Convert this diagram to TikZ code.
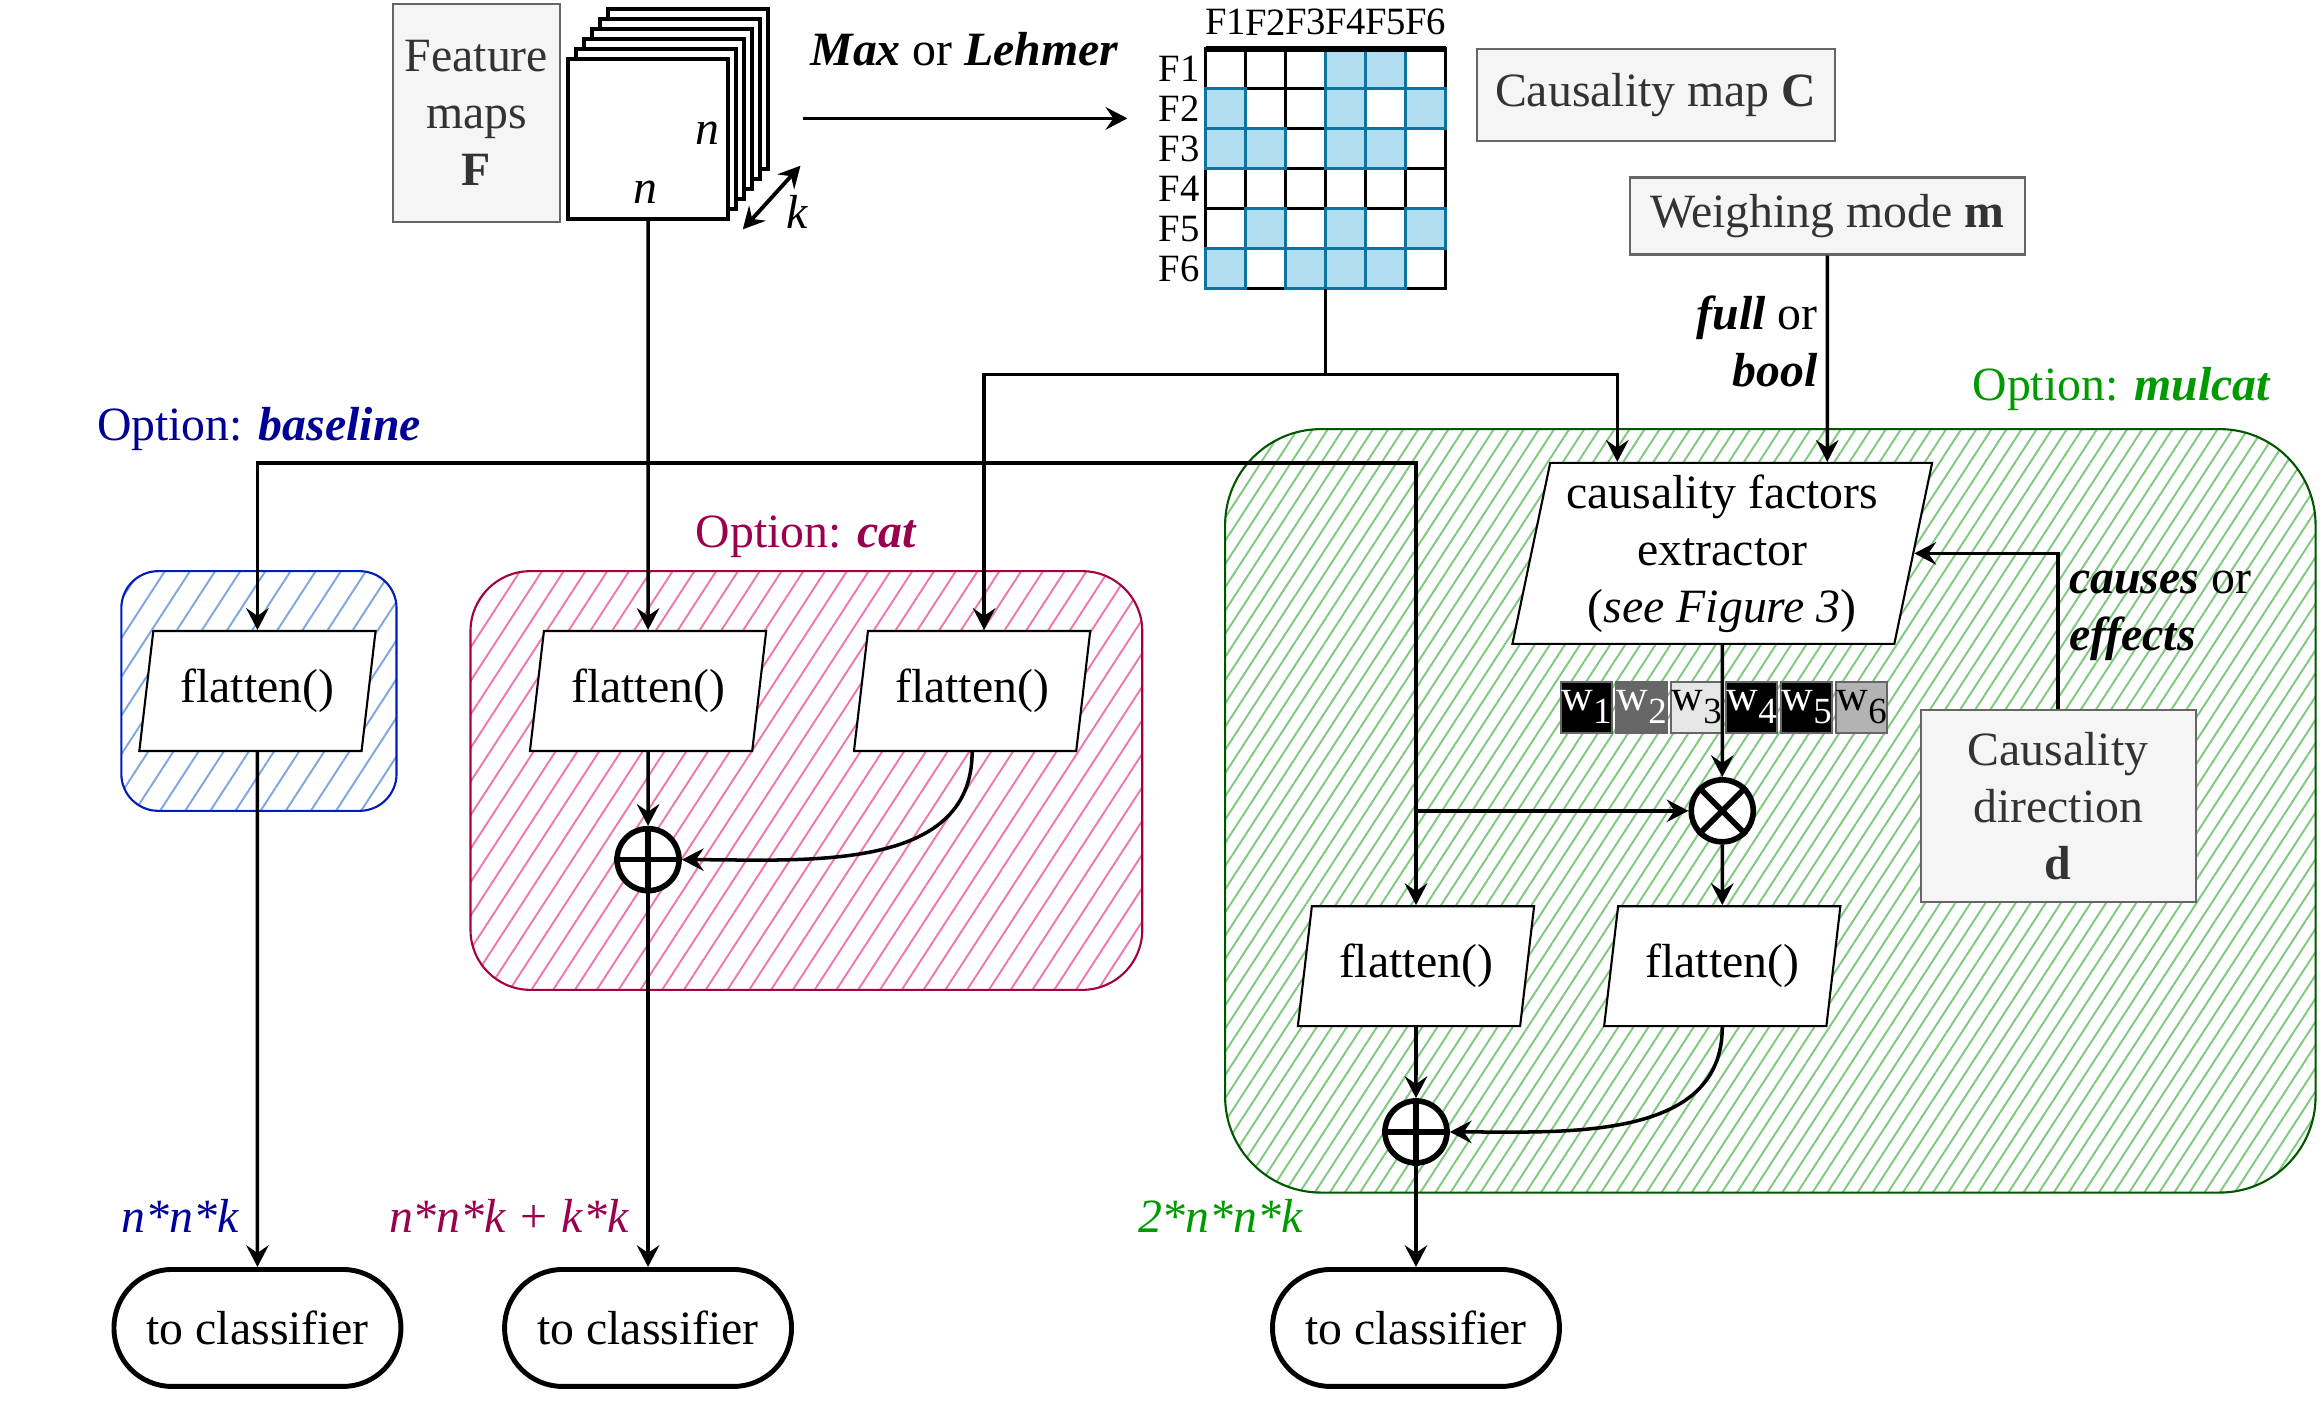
\documentclass[tikz,border=0pt]{standalone}
\usepackage{fontspec}
\setmainfont{Liberation Serif}
\usepackage{tikz}
\usetikzlibrary{calc}
\usetikzlibrary{shapes,arrows.meta,positioning,shapes.geometric,patterns.meta}

\definecolor{greyfill}{HTML}{F5F5F5}
\definecolor{greyline}{HTML}{666666}
\definecolor{greytext}{HTML}{333333}
\definecolor{cellblue}{HTML}{B1DDF0}
\definecolor{cellline}{HTML}{10739E}
\definecolor{wlight}{HTML}{E6E6E6}
\definecolor{wmid}{HTML}{B3B3B3}
\definecolor{baseblue}{HTML}{000099}
\definecolor{baseedge}{HTML}{001DBC}
\definecolor{basehatch}{HTML}{7EA6E0}
\definecolor{catred}{HTML}{99004D}
\definecolor{catedge}{HTML}{A50040}
\definecolor{cathatch}{HTML}{EC77B2}
\definecolor{mulgreen}{HTML}{009900}
\definecolor{muledge}{HTML}{005700}
\definecolor{mulhatch}{HTML}{7FC97C}

\begin{document}
\begin{tikzpicture}[x=0.0148cm, y=0.0148cm, font=\fontsize{13.6}{16.2}\selectfont, >={Stealth[length=6.2pt, width=6.4pt, inset=2.2pt]}]
    % Define block styles
    \tikzstyle{infobox} = [rectangle, draw=greyline, fill=greyfill, text=greytext, align=center, line width=0.6pt]
    \tikzstyle{process} = [trapezium, trapezium left angle=78, trapezium right angle=102, trapezium stretches=true, draw=black, fill=white, line width=0.6pt, align=center, inner sep=1pt]
    \tikzstyle{flat} = [process, minimum width=2.37cm, minimum height=1.2cm]
    \tikzstyle{terminal} = [rectangle, rounded corners=0.58cm, minimum width=2.87cm, minimum height=1.17cm, draw=black, line width=1.4pt, fill=white]
    \tikzstyle{operator} = [circle, draw=black, line width=1.6pt, minimum size=0.62cm, inner sep=0pt, fill=white]
    \tikzstyle{maplayer} = [draw=black, fill=white, line width=1.2pt]
    \tikzstyle{cell} = [draw=black, fill=white, line width=0.8pt]
    \tikzstyle{bluecell} = [draw=cellline, fill=cellblue, line width=0.8pt]
    \tikzstyle{weight} = [rectangle, draw=greyline, line width=0.6pt, minimum size=0.51cm, inner sep=0pt, font=\fontsize{12.5}{13}\selectfont]
    \tikzstyle{labelF} = [font=\fontsize{11}{12}\selectfont, inner sep=0pt]
    \tikzstyle{region} = [line width=0.6pt]
    \tikzstyle{arrow} = [line width=1pt,->]
    \tikzstyle{link} = [line width=1pt]

    \useasboundingbox (0,0) rectangle (1568,-950);

    % Option regions
    \draw [region, draw=baseedge, rounded corners=0.37cm, pattern={Lines[angle=57, distance=6pt, line width=0.55pt]}, pattern color=basehatch] (82,-386) rectangle (268,-548);
    \draw [region, draw=catedge, rounded corners=0.6cm, pattern={Lines[angle=57, distance=5.2pt, line width=0.55pt]}, pattern color=cathatch] (318,-386) rectangle (772,-669);
    \draw [region, draw=muledge, rounded corners=0.96cm, pattern={Lines[angle=57, distance=3.6pt, line width=0.55pt]}, pattern color=mulhatch] (828,-290) rectangle (1565,-806);

    % Nodes
    \node (fbox) [infobox, minimum width=1.6cm, minimum height=2.18cm] at (322,-76.5) {Feature\\maps\\\textbf{F}};
    \foreach \i in {5,...,1}
        \draw [maplayer] ({384+5.4*\i},{-40+6.8*\i}) rectangle +(108,-108);
    \node (fmap) [maplayer, rectangle, minimum size=1.6cm, inner sep=0pt] at (438,-94) {};
    \node (nright) at (478,-90) {\textit{n}};
    \node (nbottom) at (436,-130) {\textit{n}};
    \coordinate (kfrom) at (502,-155);
    \coordinate (kto) at (541,-112);
    \node (klabel) at (539,-143) {\textit{k}};
    \node (pooling) at (652,-33) {\textbf{\textit{Max}} or \textbf{\textit{Lehmer}}};
    \coordinate (poolfrom) at (543,-80);
    \coordinate (poolto) at (762,-80);

    % causality map
    \node (cmap) [minimum size=2.4cm, inner sep=0pt] at (896,-114) {};
    \foreach \r in {1,...,6} {
        \foreach \c in {1,...,6}
            \draw [cell] ({815+27*(\c-1)},{-33-27*(\r-1)}) rectangle +(27,-27);
        \node (col\r) [labelF] at ({828.5+27*(\r-1)},-15) {F\r};
        \node (row\r) [labelF] at (797,{-46.5-27*(\r-1)}) {F\r};
    }
    \foreach \r/\c in {1/4,1/5,2/1,2/4,2/6,3/1,3/2,3/4,3/5,5/2,5/4,5/6,6/1,6/3,6/4,6/5}
        \draw [bluecell] ({815+27*(\c-1)},{-33-27*(\r-1)}) rectangle +(27,-27);
    \draw [line width=1.6pt] (815,-33) -- (977,-33);

    \node (cmapbox) [infobox, minimum width=3.58cm, minimum height=0.92cm] at (1119,-64) {Causality map \textbf{C}};
    \node (wmode) [infobox, minimum width=3.95cm, minimum height=0.77cm] at (1235,-146) {Weighing mode \textbf{m}};

    % Option: baseline
    \node (optbase) [text=baseblue] at (175,-290) {Option: \textbf{\textit{baseline}}};
    \node (flatb) [flat] at (174,-467) {flatten()};
    \node (sizeb) [text=baseblue] at (122,-822) {\textit{n*n*k}};
    \node (clsb) [terminal] at (174,-897.5) {to classifier};

    % Option: cat
    \node (optcat) [text=catred] at (545,-363) {Option: \textbf{\textit{cat}}};
    \node (flatc1) [flat] at (438,-467) {flatten()};
    \node (flatc2) [flat] at (657,-467) {flatten()};
    \node (addc) [operator] at (438,-581) {};
    \node (sizec) [text=catred] at (344,-822) {\textit{n*n*k + k*k}};
    \node (clsc) [terminal] at (438,-897.5) {to classifier};

    % Option: mulcat
    \node (optmul) [text=mulgreen] at (1434,-263) {Option: \textbf{\textit{mulcat}}};
    \node (fullbool) [anchor=east, align=right, inner sep=0pt] at (1229,-231) {\textbf{\textit{full}} or\\\textbf{\textit{bool}}};
    \node (extract) [process, minimum width=4.2cm, minimum height=1.81cm] at (1164,-374) {causality factors\\extractor\\(\textit{see Figure 3})};
    \node (causeeffect) [anchor=west, align=left, inner sep=0pt] at (1398,-416) {\textbf{\textit{causes}} or\\\textbf{\textit{effects}}};
    \node (cdir) [infobox, minimum width=2.75cm, minimum height=1.92cm] at (1391,-545) {Causality\\direction\\\textbf{d}};
    \foreach \i/\wfill/\wtext in {1/black/white,2/greyline/white,3/wlight/black,4/black/white,5/black/white,6/wmid/black}
        \node (w\i) [weight, fill=\wfill, text=\wtext] at ({1072.3+37.2*(\i-1)},-478) {w\raisebox{-0.3em}{\fontsize{10.5}{11}\selectfont\i}};
    \node (mult) [operator] at (1164,-548) {};
    \node (flatm1) [flat] at (957,-653) {flatten()};
    \node (flatm2) [flat] at (1164,-653) {flatten()};
    \node (addm) [operator] at (957,-765) {};
    \node (sizem) [text=mulgreen] at (825,-822) {\textit{2*n*n*k}};
    \node (clsm) [terminal] at (957,-897.5) {to classifier};

    % Operator signs
    \draw [line width=1.6pt] (mult.north west) -- (mult.south east) (mult.north east) -- (mult.south west);
    \draw [line width=1.6pt] (addc.north) -- (addc.south) (addc.west) -- (addc.east);
    \draw [line width=1.6pt] (addm.north) -- (addm.south) (addm.west) -- (addm.east);

    % Arrows between nodes
    \coordinate (split) at (438,-313);
    \coordinate (msplit) at (957,-548);
    \coordinate (csplit) at (896,-253);
    \draw [arrow] (poolfrom) -- (poolto);
    \draw [line width=1.1pt,<->] (kfrom) -- (kto);
    \draw [arrow] (fmap.south) -- (flatc1.north);
    \draw [arrow] (split) -| (flatb.north);
    \draw [arrow] (split) -| (flatm1.north);
    \draw [arrow] (msplit) -- (mult.west);
    \draw [link] (cmap.south) -- (csplit);
    \draw [arrow] (csplit) -| ([xshift=0.12cm]flatc2.north);
    \draw [arrow] (csplit) -| ([xshift=-1.05cm]extract.north);
    \draw [arrow] (wmode.south) -- ([xshift=1.05cm]extract.north);
    \draw [arrow] (cdir.north) |- (extract.east);
    \draw [arrow] (extract.south) -- (mult.north);
    \draw [arrow] (mult.south) -- (flatm2.north);
    \draw [arrow] (flatm1.south) -- (addm.north);
    \draw [arrow] (flatm2.south) to[out=-90, in=0] (addm.east);
    \draw [arrow] (addm.south) -- (clsm.north);
    \draw [arrow] (flatb.south) -- (clsb.north);
    \draw [arrow] (flatc1.south) -- (addc.north);
    \draw [arrow] (flatc2.south) to[out=-90, in=0] (addc.east);
    \draw [arrow] (addc.south) -- (clsc.north);
\end{tikzpicture}
\end{document}
